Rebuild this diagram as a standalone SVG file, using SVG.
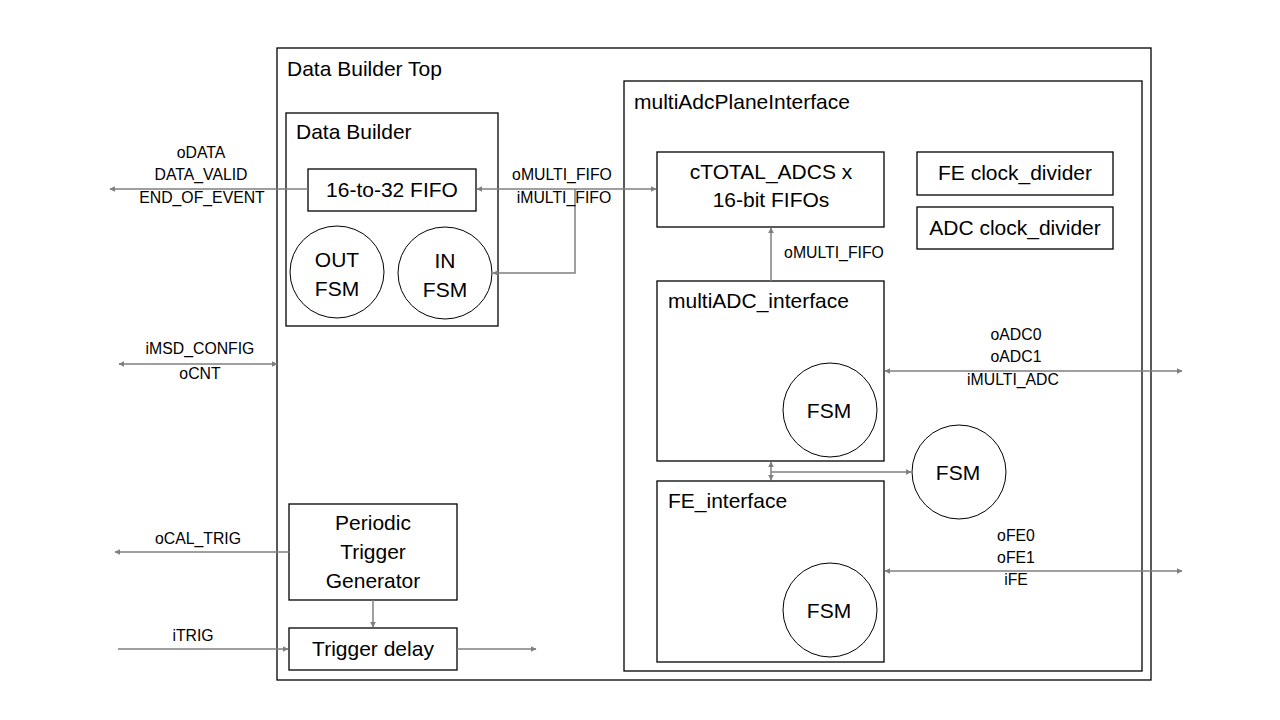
<svg xmlns="http://www.w3.org/2000/svg" width="1280" height="720" viewBox="0 0 1280 720">
<style>
.box{fill:none;stroke:#000;stroke-width:1.3}
.circ{fill:#fff;stroke:#000;stroke-width:1}
.t{font-family:"Liberation Sans",Arial,sans-serif;font-size:21px;fill:#000}
.c{text-anchor:middle}
.lbl{font-family:"Liberation Sans",Arial,sans-serif;font-size:15.8px;fill:#000;text-anchor:middle}
.con{fill:none;stroke:#7f7f7f;stroke-width:1.5}
</style>
<defs>
<marker id="ah" viewBox="0 0 10 10" refX="9" refY="5" markerWidth="6" markerHeight="6" markerUnits="userSpaceOnUse" orient="auto-start-reverse">
<path d="M0,0 L10,5 L0,10 z" fill="#7f7f7f"/>
</marker>
</defs>
<rect width="1280" height="720" fill="#fff"/>
<g id="top">
<rect class="box" x="277" y="48" width="874" height="632"/>
<text class="t" x="287" y="76">Data Builder Top</text>
</g>
<g id="plane">
<rect class="box" x="624" y="81" width="518" height="590"/>
<text class="t" x="634" y="109">multiAdcPlaneInterface</text>
</g>
<g id="databuilder">
<rect class="box" x="286" y="113" width="212" height="213"/>
<text class="t" x="296" y="139">Data Builder</text>
</g>
<g id="fifo1632">
<rect class="box" x="308" y="169" width="168" height="42"/>
<text class="t c" x="392" y="197">16-to-32 FIFO</text>
</g>
<g id="outfsm">
<ellipse class="circ" cx="337" cy="272" rx="47" ry="46"/>
<text class="t c" x="337" y="267">OUT</text>
<text class="t c" x="337" y="296">FSM</text>
</g>
<g id="infsm">
<ellipse class="circ" cx="445" cy="273" rx="47" ry="46"/>
<text class="t c" x="445" y="268">IN</text>
<text class="t c" x="445" y="297">FSM</text>
</g>
<g id="ctotal">
<rect class="box" x="657" y="152" width="227" height="75"/>
<text class="t c" x="771" y="179">cTOTAL_ADCS x</text>
<text class="t c" x="771" y="207">16-bit FIFOs</text>
</g>
<g id="feclk">
<rect class="box" x="917" y="152" width="196" height="43"/>
<text class="t c" x="1015" y="180">FE clock_divider</text>
</g>
<g id="adcclk">
<rect class="box" x="917" y="207" width="196" height="42"/>
<text class="t c" x="1015" y="235">ADC clock_divider</text>
</g>
<g id="multiadc">
<rect class="box" x="657" y="281" width="227" height="180"/>
<text class="t" x="668" y="308">multiADC_interface</text>
<circle class="circ" cx="830" cy="410" r="47"/>
<text class="t c" x="829" y="418">FSM</text>
</g>
<g id="fsm2">
<circle class="circ" cx="959" cy="472" r="47"/>
<text class="t c" x="958" y="480">FSM</text>
</g>
<g id="feif">
<rect class="box" x="657" y="481" width="227" height="181"/>
<text class="t" x="668" y="508">FE_interface</text>
<circle class="circ" cx="830" cy="610" r="47"/>
<text class="t c" x="829" y="618">FSM</text>
</g>
<g id="ptg">
<rect class="box" x="289" y="504" width="168" height="96"/>
<text class="t c" x="373" y="530">Periodic</text>
<text class="t c" x="373" y="559">Trigger</text>
<text class="t c" x="373" y="588">Generator</text>
</g>
<g id="tdelay">
<rect class="box" x="289" y="628" width="168" height="42"/>
<text class="t c" x="373" y="656">Trigger delay</text>
</g>
<g id="connectors">
<line class="con" x1="308" y1="189" x2="110" y2="189" marker-end="url(#ah)"/>
<line class="con" x1="477" y1="189" x2="656" y2="189" marker-start="url(#ah)" marker-end="url(#ah)"/>
<polyline class="con" points="575,189 575,273 493,273" marker-end="url(#ah)"/>
<line class="con" x1="771" y1="281" x2="771" y2="228" marker-end="url(#ah)"/>
<line class="con" x1="119" y1="364" x2="277" y2="364" marker-start="url(#ah)" marker-end="url(#ah)"/>
<line class="con" x1="885" y1="371" x2="1182" y2="371" marker-start="url(#ah)" marker-end="url(#ah)"/>
<line class="con" x1="771" y1="462" x2="771" y2="480" marker-start="url(#ah)" marker-end="url(#ah)"/>
<line class="con" x1="771" y1="472" x2="911" y2="472" marker-end="url(#ah)"/>
<line class="con" x1="885" y1="571" x2="1182" y2="571" marker-start="url(#ah)" marker-end="url(#ah)"/>
<line class="con" x1="289" y1="552" x2="115" y2="552" marker-end="url(#ah)"/>
<line class="con" x1="373" y1="600" x2="373" y2="627" marker-end="url(#ah)"/>
<line class="con" x1="118" y1="649" x2="288" y2="649" marker-end="url(#ah)"/>
<line class="con" x1="457" y1="649" x2="536" y2="649" marker-end="url(#ah)"/>
</g>
<g id="labels">
<text class="lbl" x="201" y="158">oDATA</text>
<text class="lbl" x="201" y="180">DATA_VALID</text>
<text class="lbl" x="202" y="203">END_OF_EVENT</text>
<text class="lbl" x="562" y="180">oMULTI_FIFO</text>
<text class="lbl" x="564" y="203">iMULTI_FIFO</text>
<text class="lbl" x="834" y="258">oMULTI_FIFO</text>
<text class="lbl" x="200" y="354">iMSD_CONFIG</text>
<text class="lbl" x="200" y="379">oCNT</text>
<text class="lbl" x="1016" y="340">oADC0</text>
<text class="lbl" x="1016" y="362">oADC1</text>
<text class="lbl" x="1013" y="385">iMULTI_ADC</text>
<text class="lbl" x="1016" y="541">oFE0</text>
<text class="lbl" x="1016" y="563">oFE1</text>
<text class="lbl" x="1016" y="585">iFE</text>
<text class="lbl" x="198" y="544">oCAL_TRIG</text>
<text class="lbl" x="193" y="641">iTRIG</text>
</g>
</svg>
